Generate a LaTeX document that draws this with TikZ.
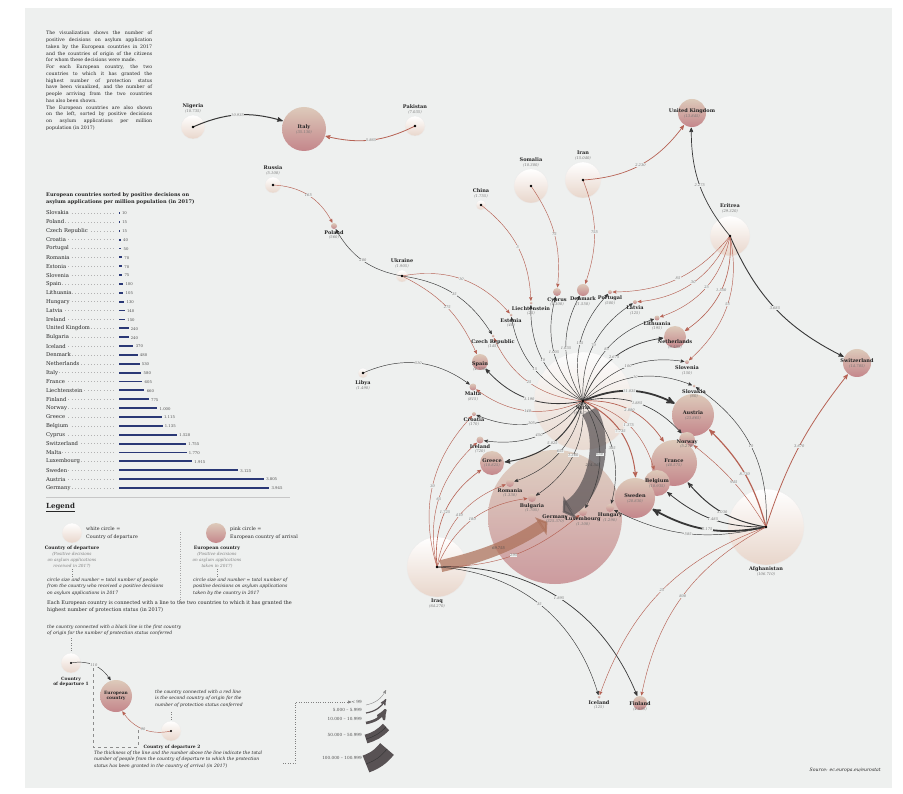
\documentclass[tikz,border=0pt]{standalone}
\usepackage{fontspec}
\setmainfont{DejaVu Serif}
\usetikzlibrary{arrows,arrows.meta,positioning}
\definecolor{panel}{RGB}{238,240,239}
\definecolor{depbot}{RGB}{232,214,203}
\definecolor{eurtop}{RGB}{221,202,186}
\definecolor{eurbot}{RGB}{196,134,139}
\definecolor{firstc}{RGB}{55,55,55}
\definecolor{secondc}{RGB}{182,98,84}
\definecolor{barc}{RGB}{42,56,118}
\definecolor{bandc}{RGB}{88,82,84}
\definecolor{brownc}{RGB}{172,112,88}
\newcommand{\cnt}[1]{\\[-0.6pt]{\fontsize{3.7}{4}\selectfont\mdseries\itshape\color{black!55}(#1)}}

\begin{document}
\begin{tikzpicture}[x=1pt,y=-1pt,>=stealth',
    dep node/.style={circle,draw=black!8,line width=0.3pt,top color=white,bottom color=depbot,inner sep=0pt,minimum size=#1},
    eur node/.style={circle,top color=eurtop,bottom color=eurbot,inner sep=0pt,minimum size=#1},
    tag text/.style={align=center,inner sep=0.4pt,text=black!85,font=\fontsize{5}{5.4}\selectfont\bfseries},
    first line/.style={draw=firstc,line width=0.45pt,shorten >=0.5pt,->},
    second line/.style={draw=secondc,line width=0.45pt,shorten >=0.5pt,->},
    num label/.style={fill=panel,inner sep=0.3pt,text=black!55,font=\fontsize{3.6}{4}\selectfont\itshape},
    plain text/.style={anchor=north west,align=left,inner sep=0pt,text=black!85,font=\fontsize{5}{6.5}\selectfont},
    note text/.style={plain text,font=\fontsize{4.5}{6.3}\selectfont\itshape},
    bar name/.style={anchor=west,fill=panel,inner sep=0.8pt,text=black!85,font=\fontsize{5.3}{6}\selectfont},
    bar value/.style={anchor=west,inner sep=0pt,text=black!70,font=\fontsize{3.8}{4}\selectfont},
    thick band/.style={draw=#1,opacity=0.72,shorten <=12pt,shorten >=9pt}]

    \useasboundingbox (0,0) rectangle (903,794);
    \fill[panel] (25,8) rectangle (892,788);

    % intro and ranking
    \node[plain text,text width=106pt,align=justify,font=\fontsize{4.7}{6.75}\selectfont] at (46,31)
      {The visualization shows the number of\linebreak positive decisions on asylum application\linebreak
       taken by the European countries in 2017\linebreak and the countries of origin of the citizens\linebreak
       for whom these decisions were made.\par
       For each European country, the two\linebreak countries to which it has granted the\linebreak
       highest number of protection status\linebreak have been visualized, and the number of\linebreak
       people arriving from the two countries\linebreak has also been shown.\par
       The European countries are also shown\linebreak on the left, sorted by positive decisions\linebreak
       on asylum applications per million\linebreak population (in 2017)};
    \node[plain text,font=\fontsize{5}{7}\selectfont\bfseries] at (46,193)
      {European countries sorted by positive decisions on\\asylum applications per million population (in 2017)};
    \foreach \n/\v/\s [count=\i from 0] in {Slovakia/10/10, Poland/15/15, Czech Republic/15/15, Croatia/40/40,
        Portugal/50/50, Romania/70/70, Estonia/70/70, Slovenia/75/75, Spain/100/100, Lithuania/105/105,
        Hungary/130/130, Latvia/140/140, Ireland/150/150, United Kingdom/240/240, Bulgaria/240/240,
        Iceland/370/370, Denmark/480/480, Netherlands/530/530, Italy/580/580, France/605/605,
        Liechtenstein/660/660, Finland/775/775, Norway/1000/1.000, Greece/1115/1.115, Belgium/1135/1.135,
        Cyprus/1520/1.520, Switzerland/1755/1.755, Malta/1770/1.770, Luxembourg/1915/1.915,
        Sweden/3125/3.125, Austria/3805/3.805, Germany/3945/3.945} {
      \draw[black!30,line width=0.4pt,dash pattern=on 0.4pt off 2.8pt] (46,213+8.87*\i) -- (115,213+8.87*\i);
      \node[bar name] at (45,213+8.87*\i) {\n};
      \draw[barc,line width=1.8pt] (119,213+8.87*\i) -- ++(0.4+0.038*\v,0);
      \node[bar value] at (121.5+0.038*\v,213.5+8.87*\i) {\s};
    }
    \draw[black!22,line width=0.6pt] (46,497) -- (290,497);

    % legend
    \node[plain text,font=\fontsize{7}{8}\selectfont\bfseries] at (46,503) {\underline{Legend}};
    \node[dep node=20pt] (45) at (72,533) {};
    \node[plain text,anchor=west,font=\fontsize{4.8}{7.6}\selectfont] at (86,533) {white circle =\\Country of departure};
    \node[tag text,font=\fontsize{4.6}{5}\selectfont\bfseries] at (72,548) {Country of departure};
    \node[align=center,inner sep=0pt,text=black!50,font=\fontsize{4.2}{6.2}\selectfont\itshape] at (72,560)
      {(Positive decisions\\on asylum applications\\received in 2017)};
    \draw[black!50,dotted] (72,569) -- (72,577);
    \node[note text] at (47,578) {circle size and number = total number of people\\from the country who received a positive decisions\\on asylum applications in 2017};
    \draw[black!35,dotted] (180,532) -- (180,602);
    \node[eur node=20pt] (46) at (216,533) {};
    \node[plain text,anchor=west,font=\fontsize{4.8}{7.6}\selectfont] at (230,533) {pink circle =\\European country of arrival};
    \node[tag text,font=\fontsize{4.6}{5}\selectfont\bfseries] at (217,548) {European country};
    \node[align=center,inner sep=0pt,text=black!50,font=\fontsize{4.2}{6.2}\selectfont\itshape] at (217,560)
      {(Positive decisions\\on asylum applications\\taken in 2017)};
    \draw[black!50,dotted] (217,569) -- (217,577);
    \node[note text] at (193,578) {circle size and number = total number of\\positive decisions on asylum applications\\taken by the country in 2017};
    \node[plain text] at (47,601) {Each European country is connected with a line to the two countries to which it has granted the\\highest number of protection status (in 2017)};
    \node[note text] at (47,625) {the country connected with a black line is the first country\\of origin for the number of protection status conferred};
    \draw[black!50,dotted] (71,638) -- (71,652);
    \node[dep node=20pt] (47) at (71,663) {};
    \node[tag text,font=\fontsize{4.4}{5}\selectfont\bfseries] at (71,682) {Country\\of departure 1};
    \node[eur node=32pt,tag text,font=\fontsize{4.4}{5}\selectfont\bfseries] (48) at (116,696) {European\\country};
    \node[dep node=20pt] (49) at (171,731) {};
    \node[tag text,font=\fontsize{4.4}{5}\selectfont\bfseries] at (172,747) {Country of departure 2};
    \path (47.center) edge [first line,bend left=35] node [num label] {110} (48);
    \path (49.center) edge [second line,bend left=35] node [num label] {90} (48);
    \fill (47.center) circle (1.2) (49.center) circle (1.2);
    \node[note text] at (155,690) {the country connected with a red line\\is the second country of origin for the\\number of protection status conferred};
    \draw[black!50,dotted] (171,712) -- (171,720);
    \draw[black!45,dashed] (93,668) -- (93,747) -- (138,747) -- (138,727);
    \node[note text] at (94,751) {The thickness of the line and the number above the line indicate the total\\number of people from the country of departure to which the protection\\status has been granted in the country of arrival (in 2017)};

    % thickness scale
    \node[bar value,anchor=east,font=\fontsize{4.2}{5}\selectfont] (50) at (362,702) {< 99};
    \node[bar value,anchor=east,font=\fontsize{4.2}{5}\selectfont] (51) at (362,710) {5.000 -- 5.999};
    \node[bar value,anchor=east,font=\fontsize{4.2}{5}\selectfont] (52) at (362,719) {10.000 -- 10.999};
    \node[bar value,anchor=east,font=\fontsize{4.2}{5}\selectfont] (53) at (362,735) {50.000 -- 50.999};
    \node[bar value,anchor=east,font=\fontsize{4.2}{5}\selectfont] (54) at (362,758) {100.000 -- 100.999};
    \draw[black!50,dotted,->] (283,763) -- (295,763) -- (295,702) -- (50.west);
    \draw[black!45,line width=0.4pt,->] (366,705) to [bend right=25] (386,690);
    \draw[bandc,line width=1.2pt,->] (366,713) to [bend right=25] (386,699);
    \draw[bandc,line width=2.6pt,->] (366,723) to [bend right=25] (386,709);
    \draw[bandc,line width=9pt] (366,739) to [bend right=15] (386,727);
    \draw[black!80,line width=0.4pt] (366,739) to [bend right=15] (386,727);
    \draw[bandc,line width=18pt] (366,764) to [bend right=15] (387,749);
    \draw[black!80,line width=0.4pt] (366,764) to [bend right=15] (387,749);
    \node[note text,anchor=east,font=\fontsize{4.6}{5}\selectfont\itshape] at (881,770) {Source: ec.europa.eu/eurostat};

    % countries
    \node[eur node=134pt,opacity=0.8] (39) at (555,517) {};
    \node[dep node=98pt,opacity=0.85] (10) at (583,401) {};
    \node[dep node=76pt] (11) at (766,527) {};
    \node[dep node=60pt] (12) at (437,567) {};
    \node[dep node=24pt] (1) at (193,127) {};
    \node[dep node=20pt] (2) at (415,126) {};
    \node[dep node=16pt] (3) at (273,185) {};
    \node[dep node=10pt] (4) at (481,205) {};
    \node[dep node=34pt] (5) at (531,186) {};
    \node[dep node=36pt] (6) at (583,180) {};
    \node[dep node=12pt] (7) at (402,276) {};
    \node[dep node=40pt] (8) at (730,236) {};
    \node[dep node=10pt] (9) at (363,373) {};
    \node[eur node=44pt] (13) at (304,129) {};
    \node[eur node=28pt] (14) at (692,113) {};
    \node[eur node=6pt] (15) at (334,226) {};
    \node[eur node=8pt] (16) at (557,292) {};
    \node[eur node=12pt] (17) at (583,290) {};
    \node[eur node=4pt] (18) at (610,292) {};
    \node[eur node=3pt] (19) at (531,303) {};
    \node[eur node=3pt] (20) at (511,315) {};
    \node[eur node=4pt] (21) at (635,302) {};
    \node[eur node=5pt] (22) at (657,318) {};
    \node[eur node=22pt] (23) at (675,337) {};
    \node[eur node=3pt] (24) at (493,336) {};
    \node[eur node=16pt] (25) at (480,362) {};
    \node[eur node=4pt] (26) at (687,362) {};
    \node[eur node=7pt] (27) at (473,387) {};
    \node[eur node=3pt] (28) at (694,386) {};
    \node[eur node=42pt] (29) at (693,415) {};
    \node[eur node=4pt] (30) at (474,414) {};
    \node[eur node=16pt] (31) at (687,440) {};
    \node[eur node=7pt] (32) at (480,440) {};
    \node[eur node=24pt] (33) at (492,463) {};
    \node[eur node=46pt] (34) at (674,463) {};
    \node[eur node=26pt] (35) at (657,483) {};
    \node[eur node=8pt] (36) at (510,483) {};
    \node[eur node=40pt] (37) at (635,498) {};
    \node[eur node=8pt] (38) at (532,498) {};
    \node[eur node=8pt] (40) at (583,512) {};
    \node[eur node=8pt] (41) at (610,508) {};
    \node[eur node=28pt] (42) at (857,363) {};
    \node[eur node=3pt] (43) at (599,697) {};
    \node[eur node=14pt] (44) at (640,703) {};

    % the two largest flows
    \draw[thick band=bandc,line width=16pt,-{Triangle[length=9pt,width=26pt]}] (10.center) to [bend left=45] node [num label,fill=none,text=black!70,opacity=1] {214.345} (39.center);
    \draw[thick band=brownc,line width=12pt,shorten <=4pt,-{Triangle[length=8pt,width=21pt]}] (12.center) to [bend right=10] node [num label,fill=none,text=black!70,opacity=1] {69.755} (39.center);

    \path (1.center) edge [first line,line width=1pt,bend left=20] node [num label] {10.935} (13);
    \path (2.center) edge [second line,line width=0.8pt,bend left=20] node [num label] {5.865} (13);
    \path (3.center) edge [second line,bend left=30] node [num label] {165} (15);
    \path (7.center) edge [first line,bend left=25] node [num label] {280} (15)
        edge [second line,bend left=30] node [num label] {10} (20)
        edge [first line,bend left=25] node [num label] {35} (24)
        edge [second line,bend left=20] node [num label] {275} (25);
    \path (4.center) edge [second line,bend left=25] node [num label] {5} (19);
    \path (5.center) edge [second line,bend left=20] node [num label] {75} (16);
    \path (6.center) edge [second line,bend left=20] node [num label] {755} (17)
        edge [second line,line width=0.7pt,bend right=25] node [num label] {2.230} (14);
    \path (8.center) edge [first line,line width=0.7pt,bend left=20] node [num label] {2.275} (14)
        edge [first line,line width=0.9pt,bend right=20] node [num label] {3.685} (42)
        edge [second line,bend left=25] node [num label] {85} (18)
        edge [second line,bend left=30] node [num label] {30} (21)
        edge [second line,bend left=30] node [num label] {25} (22)
        edge [second line,line width=0.6pt,bend left=30] node [num label] {1.550} (23)
        edge [second line,bend left=30] node [num label] {55} (26);
    \path (9.center) edge [first line,bend left=30] node [num label] {510} (27);
    \path (10.center) edge [first line,bend left=30] node [num label] {10} (19)
        edge [first line,bend left=30] node [num label] {15} (20)
        edge [first line,bend left=30] node [num label] {1.005} (16)
        edge [first line,bend left=30] node [num label] {1.035} (17)
        edge [first line,bend left=30] node [num label] {155} (18)
        edge [first line,bend left=30] node [num label] {70} (21)
        edge [first line,bend left=30] node [num label] {85} (22)
        edge [first line,line width=0.7pt,bend left=30] node [num label] {2.675} (23)
        edge [first line,bend left=30] node [num label] {100} (26)
        edge [first line,bend left=30] node [num label] {10} (28)
        edge [first line,line width=1.8pt,bend left=25] node [num label] {11.035} (29)
        edge [first line,line width=0.6pt,bend left=30] node [num label] {1.885} (31)
        edge [first line,line width=0.8pt,bend left=30] node [num label] {3.190} (25)
        edge [first line,bend left=30] node [num label] {105} (30)
        edge [first line,bend left=30] node [num label] {450} (32)
        edge [first line,line width=1pt,bend left=30] node [num label] {5.025} (33)
        edge [first line,bend left=30] node [num label] {655} (36)
        edge [first line,bend left=30] node [num label] {1.360} (38)
        edge [first line,bend left=30] node [num label] {650} (40)
        edge [first line,bend left=30] node [num label] {385} (41)
        edge [second line,bend left=30] node [num label] {25} (24)
        edge [second line,bend left=30] node [num label] {140} (27)
        edge [second line,line width=0.7pt,bend left=30] node [num label] {2.880} (34)
        edge [second line,bend left=30] node [num label] {1.375} (35)
        edge [second line,line width=1pt,bend left=30] node [num label] {7.735} (37);
    \path (11.center) edge [first line,bend right=30] node [num label] {10} (28)
        edge [first line,line width=0.8pt,bend left=20] node [num label] {1.485} (35)
        edge [first line,line width=1pt,bend left=20] node [num label] {3.030} (34)
        edge [first line,line width=1.8pt,bend left=20] node [num label] {6.175} (37)
        edge [first line,bend left=20] node [num label] {585} (41)
        edge [second line,line width=1.2pt,bend right=15] node [num label] {8.730} (29)
        edge [second line,line width=0.8pt,bend left=10] node [num label] {3.670} (42)
        edge [second line,bend right=10] node [num label] {945} (31)
        edge [second line,bend right=25] node [num label] {25} (43)
        edge [second line,bend right=25] node [num label] {800} (44);
    \path (12.center) edge [second line,bend left=30] node [num label] {30} (30)
        edge [second line,bend left=30] node [num label] {65} (32)
        edge [second line,line width=0.6pt,bend left=30] node [num label] {1.725} (33)
        edge [second line,bend left=30] node [num label] {410} (36)
        edge [second line,bend left=30] node [num label] {180} (38)
        edge [second line,bend right=20] node [num label] {295} (40)
        edge [first line,line width=0.7pt,bend left=35] node [num label] {1.895} (44)
        edge [first line,bend left=35] node [num label] {35} (43);
    \foreach \n in {1,...,12} \fill (\n.center) circle (1.3);

    % names
    \node[tag text,above=1pt of 1] {Nigeria\cnt{10.735}};
    \node[tag text,above=1pt of 2] {Pakistan\cnt{7.035}};
    \node[tag text,above=1pt of 3] {Russia\cnt{5.100}};
    \node[tag text,above=1pt of 4] {China\cnt{1.755}};
    \node[tag text,above=1pt of 5] {Somalia\cnt{10.300}};
    \node[tag text,above=1pt of 6] {Iran\cnt{15.040}};
    \node[tag text,above=1pt of 7] {Ukraine\cnt{1.905}};
    \node[tag text,above=2pt of 8] {Eritrea\cnt{29.320}};
    \node[tag text,below=2pt of 9] {Libya\cnt{1.490}};
    \node[tag text] at (583,410) {Syria\cnt{434.765}};
    \node[tag text,below=1pt of 11] {Afghanistan\cnt{106.710}};
    \node[tag text,below=1pt of 12] {Iraq\cnt{64.270}};
    \node[tag text] at (13) {Italy\cnt{35.130}};
    \node[tag text] at (14) {United Kingdom\cnt{13.845}};
    \node[tag text,below=0.5pt of 15] {Poland\cnt{560}};
    \node[tag text,below=0.5pt of 16] {Cyprus\cnt{1.300}};
    \node[tag text,below=0pt of 17] {Denmark\cnt{1.550}};
    \node[tag text,below=1pt of 18] {Portugal\cnt{500}};
    \node[tag text,below=1pt of 19] {Liechtenstein\cnt{25}};
    \node[tag text,below=1pt of 20] {Estonia\cnt{40}};
    \node[tag text,below=1pt of 21] {Latvia\cnt{125}};
    \node[tag text,below=0pt of 22] {Lithuania\cnt{195}};
    \node[tag text] at (675,344) {Netherlands\cnt{9.495}};
    \node[tag text,below=1pt of 24] {Czech Republic\cnt{145}};
    \node[tag text] at (480,366) {Spain\cnt{4.700}};
    \node[tag text,below=1pt of 26] {Slovenia\cnt{150}};
    \node[tag text,below=0.5pt of 27] {Malta\cnt{815}};
    \node[tag text,below=1pt of 28] {Slovakia\cnt{60}};
    \node[tag text] at (29) {Austria\cnt{23.865}};
    \node[tag text,below=0.5pt of 30] {Croatia\cnt{170}};
    \node[tag text] at (687,444) {Norway\cnt{5.270}};
    \node[tag text,below=0pt of 32] {Ireland\cnt{720}};
    \node[tag text] at (33) {Greece\cnt{10.825}};
    \node[tag text] at (34) {France\cnt{40.575}};
    \node[tag text] at (35) {Belgium\cnt{10.935}};
    \node[tag text,below=0.5pt of 36] {Romania\cnt{1.330}};
    \node[tag text] at (37) {Sweden\cnt{20.830}};
    \node[tag text,below=0.5pt of 38] {Bulgaria\cnt{1.705}};
    \node[tag text] at (555,519) {Germany\cnt{325.370}};
    \node[tag text,below=0pt of 40] {Luxembourg\cnt{1.100}};
    \node[tag text,below=0pt of 41] {Hungary\cnt{1.290}};
    \node[tag text] at (42) {Switzerland\cnt{14.785}};
    \node[tag text,below=1pt of 43] {Iceland\cnt{125}};
    \node[tag text] at (640,706) {Finland\cnt{4.695}};
\end{tikzpicture}
\end{document}
